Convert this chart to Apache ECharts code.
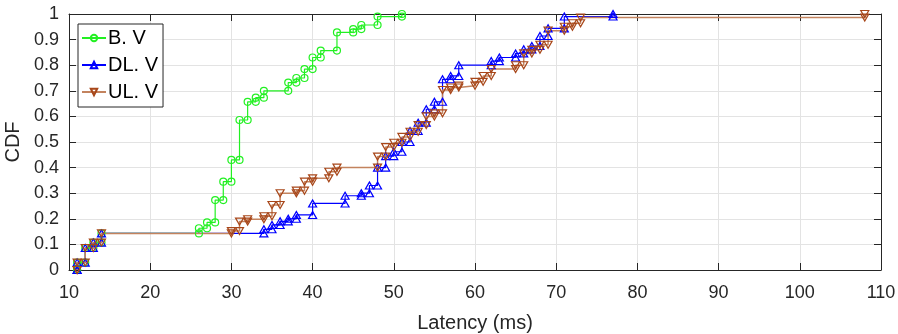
<!DOCTYPE html>
<html><head><meta charset="utf-8">
<script src="https://cdn.jsdelivr.net/npm/echarts@6/dist/echarts.min.js"></script>
<style>html,body{margin:0;padding:0;background:#fff}#c{width:898px;height:334px}</style>
</head><body><div id="c"></div>
<script>
// Empirical CDF jump points (latency ms, cumulative fraction)
const seriesNames = ['B. V', 'DL. V', 'UL. V'];
const bvX = [11, 11, 12, 13, 14, 26, 27, 28, 29, 30, 31, 32, 33, 34, 37, 38, 39, 40, 41, 43, 45, 46, 48, 51];
const bvF = [0, 0.029, 0.086, 0.107, 0.143, 0.163, 0.186, 0.273, 0.345, 0.43, 0.586, 0.657, 0.673, 0.70, 0.732, 0.75, 0.785, 0.83, 0.857, 0.928, 0.941, 0.957, 0.99, 1.0];
const dlX = [11, 11, 12, 13, 14, 34, 35, 36, 37, 38, 40, 44, 46, 47, 48, 49, 50, 51, 52, 53, 54, 55, 56, 57, 58, 62, 63, 65, 66, 67, 68, 69, 71, 77];
const dlF = [0, 0.029, 0.086, 0.107, 0.143, 0.159, 0.176, 0.19, 0.20, 0.215, 0.26, 0.29, 0.30, 0.33, 0.40, 0.445, 0.462, 0.50, 0.543, 0.575, 0.628, 0.657, 0.745, 0.758, 0.80, 0.816, 0.83, 0.846, 0.862, 0.875, 0.914, 0.944, 0.99, 1.0];
const ulX = [11, 11, 12, 13, 14, 30, 31, 32, 34, 35, 36, 38, 39, 40, 42, 43, 48, 49, 50, 51, 52, 53, 54, 55, 56, 57, 58, 60, 61, 62, 65, 66, 67, 68, 69, 71, 72, 73, 108];
const ulF = [0, 0.029, 0.086, 0.107, 0.143, 0.152, 0.189, 0.198, 0.21, 0.254, 0.30, 0.31, 0.345, 0.358, 0.384, 0.40, 0.443, 0.48, 0.497, 0.52, 0.54, 0.566, 0.60, 0.612, 0.703, 0.713, 0.72, 0.735, 0.758, 0.785, 0.80, 0.846, 0.86, 0.88, 0.935, 0.95, 0.964, 0.986, 1.0];
const xTickLabels = ['10','20','30','40','50','60','70','80','90','100','110'];
const yTickLabels = ['0','0.1','0.2','0.3','0.4','0.5','0.6','0.7','0.8','0.9','1'];

function stairs(xs, fs) {
  const pts = [];
  for (let i = 0; i < xs.length; i++) {
    pts.push([xs[i], fs[i]]);
    if (i + 1 < xs.length) pts.push([xs[i + 1], fs[i]]);
  }
  return pts;
}

const AX = '#262626';
const FONT = 'Liberation Sans, Arial, Helvetica, sans-serif';
const chart = echarts.init(document.getElementById('c'), null, {renderer: 'canvas'});

function axisCommon(show) {
  return {
    axisLine: {show: true, onZero: false, lineStyle: {color: AX, width: 1}},
    axisTick: {show: true, inside: true, length: 7, lineStyle: {color: AX}},
    axisLabel: {show: show, color: AX, fontFamily: FONT, fontSize: 18},
    splitLine: {show: show, lineStyle: {color: '#e3e3e3', width: 1}}
  };
}

const xMin = 10, xMax = 110, xStep = 10;
const option = {
  animation: false,
  backgroundColor: '#fff',
  grid: {left: 69, right: 17, top: 14, bottom: 64, containLabel: false, outerBoundsMode: 'none'},
  legend: {
    orient: 'vertical', left: 78, top: 24,
    backgroundColor: '#fff', borderColor: AX, borderWidth: 1,
    padding: [4, 5, 5, 3], itemGap: 7, itemWidth: 24, itemHeight: 8,
    textStyle: {fontFamily: FONT, fontSize: 20, color: '#000', padding: [0, 0, 0, -3]},
    data: seriesNames
  },
  xAxis: [
    Object.assign({type: 'value', min: xMin, max: xMax, interval: xStep, position: 'bottom',
      name: 'Latency (ms)', nameLocation: 'middle', nameGap: 43,
      nameTextStyle: {fontFamily: FONT, fontSize: 20, color: AX}}, axisCommon(true),
      {axisLabel: {color: AX, fontFamily: FONT, fontSize: 18, margin: 14,
        formatter: v => xTickLabels[Math.round((v - xMin) / xStep)]}}),
    Object.assign({type: 'value', min: xMin, max: xMax, interval: xStep, position: 'top'}, axisCommon(false))
  ],
  yAxis: [
    Object.assign({type: 'value', min: 0, max: 1, interval: 0.1, position: 'left',
      name: 'CDF', nameLocation: 'middle', nameGap: 46, nameRotate: 90,
      nameTextStyle: {fontFamily: FONT, fontSize: 20, color: AX}}, axisCommon(true),
      {axisLabel: {color: AX, fontFamily: FONT, fontSize: 18, margin: 10,
        formatter: v => yTickLabels[Math.round(v * 10)]}}),
    Object.assign({type: 'value', min: 0, max: 1, interval: 0.1, position: 'right'}, axisCommon(false))
  ],
  series: [
    {name: seriesNames[0], type: 'line', data: stairs(bvX, bvF), xAxisIndex: 0, yAxisIndex: 0,
      symbol: 'circle', symbolSize: 7, showAllSymbol: true,
      lineStyle: {color: '#22f022', width: 1.2},
      itemStyle: {color: 'rgba(255,255,255,0)', borderColor: '#22f022', borderWidth: 1.2}},
    {name: seriesNames[1], type: 'line', data: stairs(dlX, dlF), xAxisIndex: 0, yAxisIndex: 0,
      symbol: 'triangle', symbolSize: [8, 7], showAllSymbol: true,
      lineStyle: {color: '#0000ff', width: 1.2},
      itemStyle: {color: 'rgba(255,255,255,0)', borderColor: '#0000ff', borderWidth: 1.2}},
    {name: seriesNames[2], type: 'line', data: stairs(ulX, ulF), xAxisIndex: 0, yAxisIndex: 0,
      symbol: 'triangle', symbolRotate: 180, symbolSize: [8, 7], showAllSymbol: true,
      lineStyle: {color: '#c3835e', width: 1.5},
      itemStyle: {color: 'rgba(255,255,255,0)', borderColor: '#a8471a', borderWidth: 1.2}}
  ]
};
chart.setOption(option);
</script>
</body></html>
